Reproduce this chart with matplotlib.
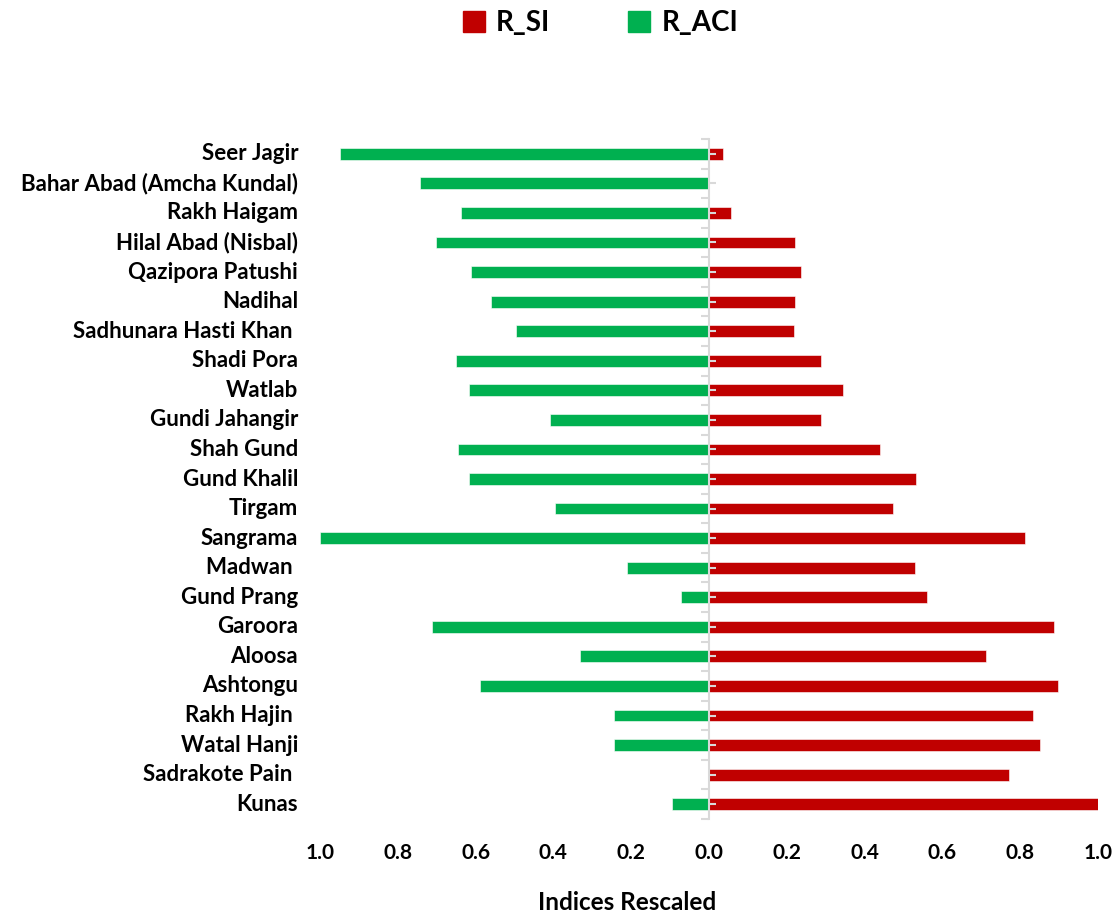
import matplotlib.pyplot as plt
from matplotlib.patches import Patch
from matplotlib.transforms import blended_transform_factory

plt.rcParams['font.family'] = ['Lato', 'DejaVu Sans']

# villages, top to bottom
villages = [
    "Seer Jagir", "Bahar Abad (Amcha Kundal)", "Rakh Haigam", "Hilal Abad (Nisbal)",
    "Qazipora Patushi", "Nadihal", "Sadhunara Hasti Khan ", "Shadi Pora", "Watlab",
    "Gundi Jahangir", "Shah Gund", "Gund Khalil", "Tirgam", "Sangrama", "Madwan ",
    "Gund Prang", "Garoora", "Aloosa", "Ashtongu", "Rakh Hajin ", "Watal Hanji",
    "Sadrakote Pain ", "Kunas",
]
r_si = [0.036, 0.0, 0.057, 0.221, 0.237, 0.221, 0.219, 0.288, 0.344, 0.288, 0.440,
        0.532, 0.473, 0.812, 0.530, 0.560, 0.887, 0.712, 0.897, 0.833, 0.851, 0.771, 1.0]
r_aci = [0.949, 0.743, 0.638, 0.702, 0.612, 0.560, 0.496, 0.650, 0.617, 0.409, 0.645,
         0.617, 0.396, 1.0, 0.211, 0.072, 0.712, 0.332, 0.589, 0.244, 0.244, 0.0, 0.095]
xticks = [-1.0, -0.8, -0.6, -0.4, -0.2, 0.0, 0.2, 0.4, 0.6, 0.8, 1.0]

red = "#C00000"
green = "#00B050"

fig = plt.figure(figsize=(11.16, 9.13), dpi=100)
ax = fig.add_axes([320 / 1116, 1 - 819 / 913, 778 / 1116, 680 / 913])

y = list(range(len(villages)))
ax.barh(y, r_si, height=0.4, color=red, edgecolor="white", linewidth=0.4)
ax.barh(y, [-v for v in r_aci], height=0.4, color=green, edgecolor="white", linewidth=0.4)

ax.set_xlim(-1.0, 1.0)
ax.set_ylim(len(villages) - 0.5, -0.5)

# center axis line
for s in ["top", "right", "bottom"]:
    ax.spines[s].set_visible(False)
ax.spines["left"].set_position(("data", 0))
ax.spines["left"].set_color("#D9D9D9")
ax.spines["left"].set_linewidth(1.5)
ax.set_yticks([i - 0.5 for i in range(len(villages) + 1)])
ax.set_yticks(y, minor=True)
ax.tick_params(axis="y", which="major", direction="out", length=6, color="#D9D9D9",
               width=1.5, labelleft=False)
ax.tick_params(axis="y", which="minor", direction="in", length=5, color="#D9D9D9",
               width=1.5, labelleft=False)

ax.set_xticks(xticks)
ax.set_xticklabels([f"{abs(t):.1f}" for t in xticks], fontsize=15, fontweight="bold")
ax.tick_params(axis="x", length=0, pad=17)
fig.text(627 / 1116, 1 - 902 / 913, "Indices Rescaled", ha="center", va="center",
         fontsize=17.5, fontweight="bold")

trans = blended_transform_factory(ax.transAxes, ax.transData)
for i, name in enumerate(villages):
    ax.text(-0.028, i, name, transform=trans, ha="right", va="center",
            fontsize=16, fontweight="bold")

handles = [Patch(color=red, label="R_SI"), Patch(color=green, label="R_ACI")]
fig.legend(handles=handles, loc="center", bbox_to_anchor=(0.538, 0.975), ncol=2,
           frameon=False, prop={"size": 20, "weight": "bold"}, handlelength=0.8,
           handleheight=0.8, handletextpad=0.4, columnspacing=2.8)

fig.savefig("out.png", dpi=100)
